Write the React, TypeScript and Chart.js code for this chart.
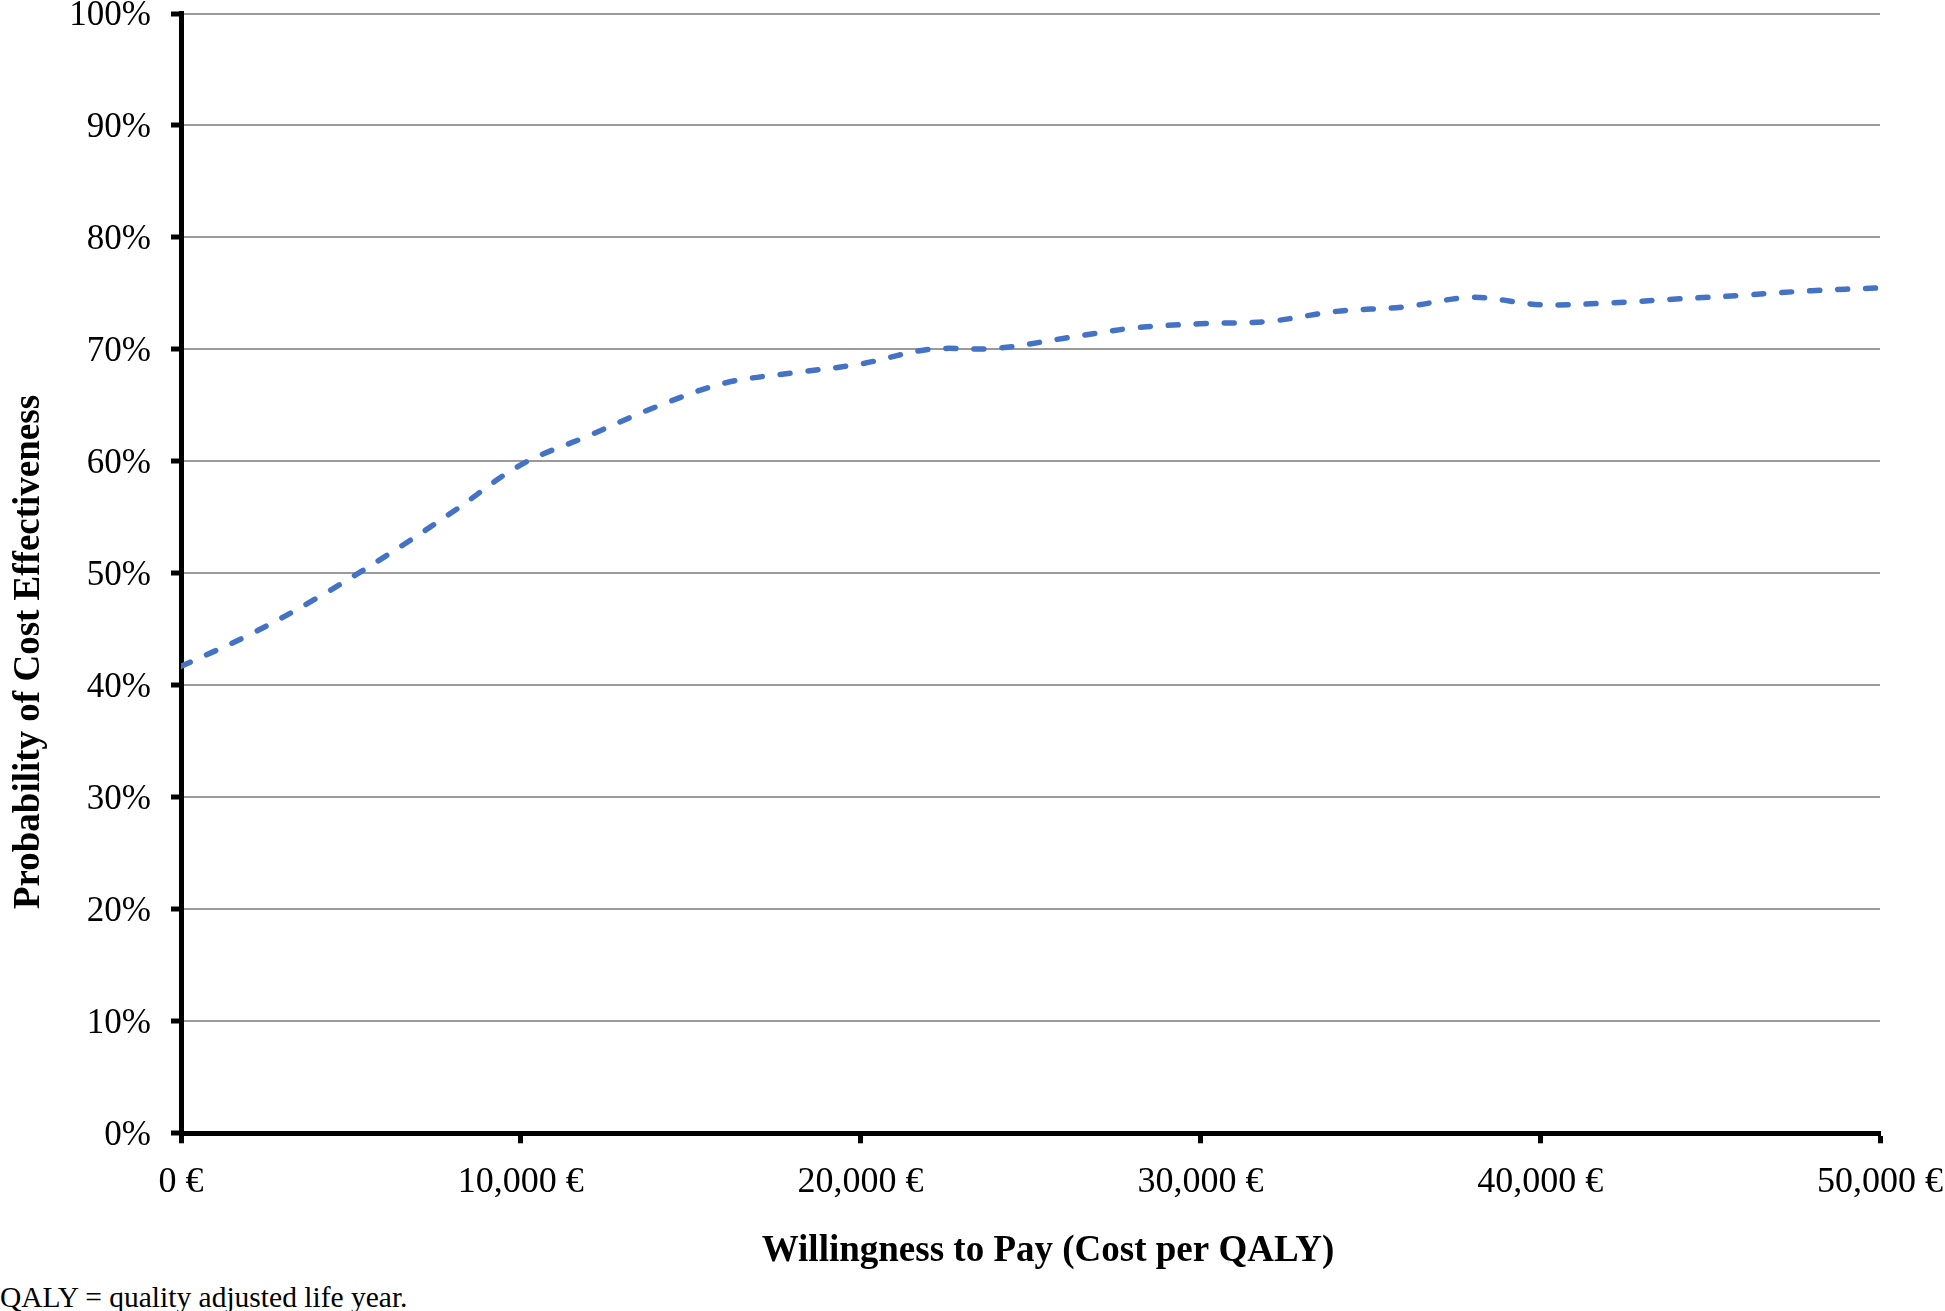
import React, { useEffect, useRef } from "react";
import { Chart, registerables } from "chart.js";

Chart.register(...registerables);

// Willingness to pay (€ per QALY)
const wtp = [
  0, 2000, 4000, 6000, 8000, 10000, 12000, 14000, 16000, 18000, 20000, 22000, 24000,
  26000, 28000, 30000, 32000, 34000, 36000, 38000, 40000, 42000, 44000, 46000, 48000, 50000,
];
// Probability of cost effectiveness (%)
const probability = [
  41.7, 44.5, 47.8, 51.5, 55.5, 59.7, 62.3, 64.9, 67.0, 67.9, 68.7, 70.0, 70.1,
  71.0, 71.9, 72.3, 72.5, 73.4, 73.8, 74.65, 74.0, 74.15, 74.5, 74.85, 75.25, 75.5,
];
const xTicks = [0, 10000, 20000, 30000, 40000, 50000];
const yTicks = [0, 10, 20, 30, 40, 50, 60, 70, 80, 90, 100];

const xTitle = "Willingness to Pay (Cost per QALY)";
const yTitle = "Probability of Cost Effectiveness";
const footnote = "QALY = quality adjusted life year.";

const W = 1945;
const H = 1280;
const FONT = "'Liberation Serif', 'Times New Roman', serif";

const titlePlugin = {
  id: "axisTitles",
  afterDraw(chart: any) {
    const ctx = chart.ctx as CanvasRenderingContext2D;
    ctx.save();
    ctx.fillStyle = "#000";
    ctx.font = `bold 37px ${FONT}`;
    ctx.textAlign = "center";
    ctx.textBaseline = "middle";
    ctx.fillText(xTitle, 1048, 1251.5);
    ctx.translate(29, 652);
    ctx.rotate(-Math.PI / 2);
    ctx.fillText(yTitle, 0, 0);
    ctx.restore();
  },
};

export default function App() {
  const ref = useRef<HTMLCanvasElement | null>(null);

  useEffect(() => {
    if (!ref.current) return;
    const chart = new Chart(ref.current, {
      type: "line",
      data: {
        datasets: [
          {
            data: wtp.map((x, i) => ({ x, y: probability[i] })),
            borderColor: "#4472C4",
            borderWidth: 5.5,
            borderDash: [10, 18],
            borderCapStyle: "round",
            pointRadius: 0,
            tension: 0.35,
            fill: false,
          },
        ],
      },
      options: {
        animation: false,
        responsive: false,
        devicePixelRatio: 1,
        layout: { padding: 0 },
        plugins: {
          legend: { display: false },
          tooltip: { enabled: false },
        },
        scales: {
          x: {
            type: "linear",
            min: 0,
            max: 50000,
            afterBuildTicks: (scale: any) => {
              scale.ticks = xTicks.map((v) => ({ value: v }));
            },
            afterFit: (scale: any) => {
              scale.height = H - 1133.3;
              scale.paddingRight = W - 1880;
            },
            ticks: {
              autoSkip: false,
              maxRotation: 0,
              padding: 18,
              color: "#000",
              font: { family: FONT, size: 36, lineHeight: 1.2 },
              callback: (v: any) => Number(v).toLocaleString("en-US") + " €",
            },
            grid: {
              drawOnChartArea: false,
              drawTicks: true,
              tickLength: 10,
              tickColor: "#000",
              tickWidth: 5,
            },
            border: { display: true, color: "#000", width: 5 },
            title: { display: false },
          },
          y: {
            type: "linear",
            min: 0,
            max: 100,
            afterBuildTicks: (scale: any) => {
              scale.ticks = yTicks.map((v) => ({ value: v }));
            },
            afterFit: (scale: any) => {
              scale.width = 181;
              scale.paddingTop = 13.5;
              scale.paddingBottom = 0;
            },
            ticks: {
              autoSkip: false,
              padding: 20,
              labelOffset: 2.5,
              color: "#000",
              font: { family: FONT, size: 35, lineHeight: 0.7 },
              callback: (v: any) => v + "%",
            },
            grid: {
              drawOnChartArea: true,
              color: "#9a9a9a",
              lineWidth: 2,
              drawTicks: true,
              tickLength: 10,
              tickColor: "#000",
              tickWidth: 5,
            },
            border: { display: true, color: "#000", width: 5 },
            title: { display: false },
          },
        },
      },
      plugins: [titlePlugin],
    });
    return () => chart.destroy();
  }, []);

  return (
    <div style={{ position: "absolute", left: 0, top: 0, width: W, height: 1311, background: "#fff" }}>
      <canvas ref={ref} width={W} height={H} style={{ display: "block", width: W, height: H }} />
      <div
        style={{
          position: "absolute",
          left: 0,
          top: 1283,
          fontFamily: FONT,
          fontSize: 29.5,
          lineHeight: "29px",
          color: "#000",
          whiteSpace: "nowrap",
        }}
      >
        {footnote}
      </div>
    </div>
  );
}
